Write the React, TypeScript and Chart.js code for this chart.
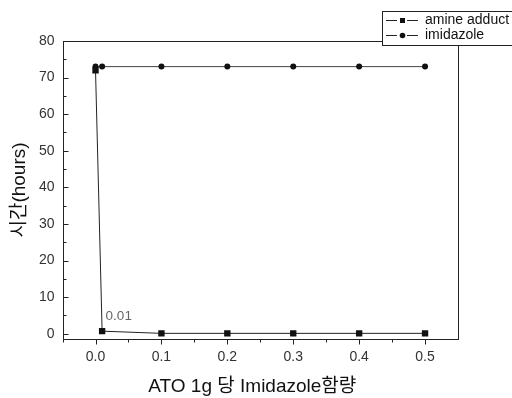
import React, { useEffect, useRef } from "react";
import { Chart, registerables } from "chart.js";

Chart.register(...registerables);

const xValues = [0, 0.01, 0.1, 0.2, 0.3, 0.4, 0.5];
const amineAdduct = [72, 0.7, 0.1, 0.1, 0.1, 0.1, 0.1];
const imidazole = [73, 73, 73, 73, 73, 73, 73];
const xTicks = [0, 0.1, 0.2, 0.3, 0.4, 0.5];
const yTicks = [0, 10, 20, 30, 40, 50, 60, 70, 80];
const seriesNames = ["amine adduct", "imidazole"];
const xTitle = "ATO 1g 당 Imidazole함량";
const yTitle = "시간(hours)";
const pointLabel = "0.01";

const FONT = "'Liberation Sans', Arial, 'Noto Sans CJK KR', sans-serif";

const decorPlugin = {
  id: "decor",
  afterDraw(chart: any) {
    const ctx = chart.ctx;
    const area = chart.chartArea;
    const xs = chart.scales.x;
    const ys = chart.scales.y;
    ctx.save();
    // frame
    ctx.strokeStyle = "#222";
    ctx.lineWidth = 1;
    ctx.strokeRect(Math.round(area.left) + 0.5, Math.round(area.top) + 0.5, Math.round(area.right - area.left), Math.round(area.bottom - area.top));
    // x ticks (outward)
    ctx.beginPath();
    const by = Math.round(area.bottom) + 0.5;
    for (let i = 0; i < xTicks.length; i++) {
      const px = Math.round(xs.getPixelForValue(xTicks[i])) + 0.5;
      ctx.moveTo(px, by);
      ctx.lineTo(px, by + 5);
      const half = xTicks[i] + 0.05;
      const mx = Math.round(xs.getPixelForValue(half)) + 0.5;
      if (mx < area.right) {
        ctx.moveTo(mx, by);
        ctx.lineTo(mx, by + 3);
      }
      const hm = xTicks[i] - 0.05;
      if (i === 0) {
        const mx2 = Math.round(xs.getPixelForValue(hm)) + 0.5;
        if (mx2 > area.left) {
          ctx.moveTo(mx2, by);
          ctx.lineTo(mx2, by + 3);
        }
      }
    }
    // y ticks (inward)
    const lx = Math.round(area.left) + 0.5;
    for (let i = 0; i < yTicks.length; i++) {
      const py = Math.round(ys.getPixelForValue(yTicks[i])) + 0.5;
      ctx.moveTo(lx, py);
      ctx.lineTo(lx + 5, py);
      if (i < yTicks.length - 1) {
        const my = Math.round(ys.getPixelForValue(yTicks[i] + 5)) + 0.5;
        ctx.moveTo(lx, my);
        ctx.lineTo(lx + 3, my);
      }
    }
    ctx.stroke();

    // axis titles
    ctx.fillStyle = "#111";
    ctx.font = `19px ${FONT}`;
    ctx.textAlign = "center";
    ctx.textBaseline = "middle";
    ctx.fillText(xTitle, (area.left + area.right) / 2 - 8, 387);
    ctx.save();
    ctx.translate(20, 190);
    ctx.rotate(-Math.PI / 2);
    ctx.fillText(yTitle, 0, 0);
    ctx.restore();

    // point annotation
    const meta = chart.getDatasetMeta(0);
    const pt = meta.data[1];
    ctx.fillStyle = "#666";
    ctx.font = `13.5px ${FONT}`;
    ctx.textAlign = "left";
    ctx.fillText(pointLabel, pt.x + 3.5, pt.y - 15);

    // legend
    const L = 382, T = 11, B = 45;
    ctx.fillStyle = "#fff";
    ctx.fillRect(L, T, 140, B - T);
    ctx.strokeStyle = "#222";
    ctx.strokeRect(L + 0.5, T + 0.5, 140, B - T);
    const rows = [20, 35];
    for (let r = 0; r < 2; r++) {
      const y = rows[r] + 0.5;
      ctx.strokeStyle = "#222";
      ctx.beginPath();
      ctx.moveTo(386, y);
      ctx.lineTo(397, y);
      ctx.moveTo(407, y);
      ctx.lineTo(418, y);
      ctx.stroke();
      ctx.fillStyle = "#111";
      if (r === 0) {
        ctx.fillRect(400, rows[r] - 2, 5, 5);
      } else {
        ctx.beginPath();
        ctx.arc(402.5, y, 2.8, 0, Math.PI * 2);
        ctx.fill();
      }
      ctx.font = `14px ${FONT}`;
      ctx.textAlign = "left";
      ctx.fillText(seriesNames[r], 425, y);
    }
    ctx.restore();
  },
};

export default function App() {
  const ref = useRef<HTMLCanvasElement>(null);
  useEffect(() => {
    document.body.style.margin = "0";
    const canvas = ref.current!;
    const chart = new Chart(canvas, {
      type: "line",
      data: {
        datasets: [
          {
            label: seriesNames[0],
            data: xValues.map((x, i) => ({ x, y: amineAdduct[i] })),
            borderColor: "#222",
            borderWidth: 1,
            backgroundColor: "#111",
            pointStyle: "rect",
            pointRadius: 4.5,
            pointBorderWidth: 0,
            pointBackgroundColor: "#111",
          },
          {
            label: seriesNames[1],
            data: xValues.map((x, i) => ({ x, y: imidazole[i] })),
            borderColor: "#444",
            borderWidth: 1,
            backgroundColor: "#111",
            pointStyle: "circle",
            pointRadius: 3,
            pointBorderWidth: 0,
            pointBackgroundColor: "#111",
          },
        ],
      },
      plugins: [decorPlugin],
      options: {
        responsive: false,
        animation: false,
        devicePixelRatio: 1,
        layout: { padding: { left: 31, right: 54, top: 41, bottom: 22 } },
        plugins: { legend: { display: false }, tooltip: { enabled: false } },
        scales: {
          x: {
            type: "linear",
            min: -0.05,
            max: 0.55,
            afterBuildTicks: (s: any) => {
              s.ticks = xTicks.map((v) => ({ value: v }));
            },
            grid: { display: false, drawTicks: false },
            border: { display: false },
            ticks: {
              padding: 10,
              color: "#333",
              font: { family: FONT, size: 14 },
              callback: (v: any) => Number(v).toFixed(1),
              maxRotation: 0,
            },
          },
          y: {
            type: "linear",
            min: -1.5,
            max: 80,
            afterBuildTicks: (s: any) => {
              s.ticks = yTicks.map((v) => ({ value: v }));
            },
            grid: { display: false, drawTicks: false },
            border: { display: false },
            ticks: {
              padding: 8,
              color: "#333",
              font: { family: FONT, size: 14 },
              callback: (v: any) => String(v),
            },
          },
        },
      },
    });
    return () => chart.destroy();
  }, []);
  return (
    <div style={{ width: 512, height: 398, background: "#fff" }}>
      <canvas ref={ref} width={512} height={398} style={{ display: "block" }} />
    </div>
  );
}
